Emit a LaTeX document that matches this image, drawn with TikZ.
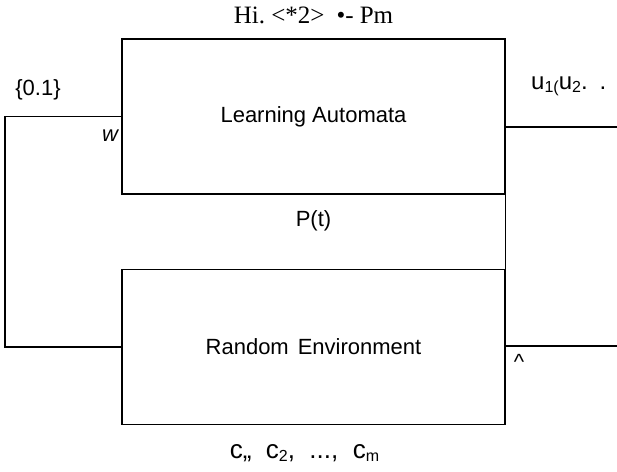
\documentclass[tikz,border=0pt]{standalone}
\usepackage{fontspec}
\setmainfont{Liberation Serif}
\setsansfont{Liberation Sans}
\usepackage{tikz}
\usetikzlibrary{arrows}
\usetikzlibrary{positioning}

\newcommand{\lowsub}[1]{\raisebox{-0.25ex}{\fontsize{16}{18}\selectfont #1}}

\begin{document}
\begin{tikzpicture}[x=1pt,y=-1pt]

\tikzstyle{block}=[draw, line width=1.1pt, minimum width=383pt, minimum height=155pt, inner sep=0pt, font=\sffamily\fontsize{22}{26}\selectfont]
\tikzstyle{line}=[draw, line width=1.1pt]
\tikzstyle{label}=[inner sep=0pt, font=\sffamily\fontsize{22}{26}\selectfont]

\useasboundingbox (0,0) rectangle (617,471);

\node[block] (automaton) at (313.5,116.5) {Learning Automata};
\node[block] (environment) at (313.5,347) {Random\hspace{9pt}Environment};

\node[inner sep=0pt, font=\fontsize{25}{28}\selectfont, above=14pt of automaton] (actions) {Hi.\ <*2>\hspace{12pt}\textbullet- Pm};
\node[label, below=16pt of automaton] (prob) {P(t)};
\node[label, font=\sffamily\fontsize{26}{30}\selectfont, below=19pt of environment, xshift=-9pt] (penalties) {c,,\ \ c\lowsub{2},\ \ ...,\ \ c\lowsub{m}};

\node[label] (inputs) at (38,90) {\{0.1\}};
\node[label] (beta) at (110,136) {\itshape w};
\node[label, font=\sffamily\fontsize{24}{28}\selectfont, anchor=west] (outputs) at (531,86) {u\lowsub{1(}u\lowsub{2}.\hspace{12pt}.};
\node[label] (alpha) at (519,362) {\textasciicircum};

\coordinate (feedback) at (5,230);
\coordinate (actionout) at (617,127);
\coordinate (responseout) at (617,346);

\path[line] (automaton.west) -| (feedback) |- (environment.west);
\path[line] (automaton.east |- actionout) -- (actionout);
\path[line] (automaton.south east) -- (environment.north east);
\path[line] (environment.east |- responseout) -- (responseout);

\end{tikzpicture}
\end{document}
